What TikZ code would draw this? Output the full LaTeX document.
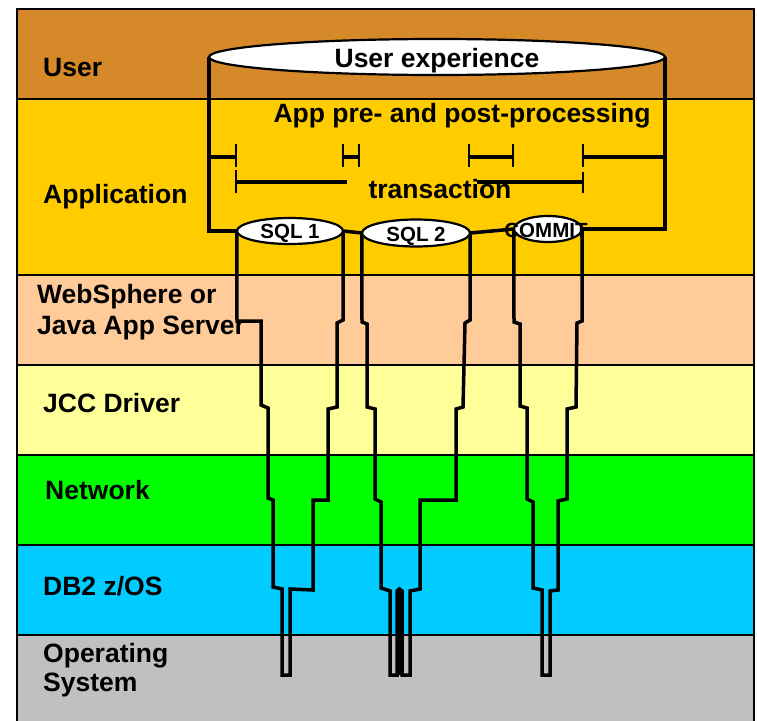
\documentclass[tikz,border=0pt]{standalone}
\usepackage{fontspec}
\setmainfont{Liberation Sans}
\usetikzlibrary{shapes.geometric}
\definecolor{cUser}{RGB}{213,137,40}
\definecolor{cApp}{RGB}{255,204,0}
\definecolor{cWeb}{RGB}{255,204,153}
\definecolor{cJCC}{RGB}{255,255,153}
\definecolor{cNet}{RGB}{0,255,0}
\definecolor{cDB}{RGB}{0,204,255}
\definecolor{cOS}{RGB}{192,192,192}
\tikzset{
  band/.style={draw=black, line width=1.8pt},
  lbl/.style={anchor=base west, inner sep=0pt, font=\fontsize{26.5pt}{31pt}\selectfont\bfseries, align=left},
  big/.style={inner sep=0pt, font=\fontsize{26.5pt}{31pt}\selectfont\bfseries},
  ell/.style={ellipse, draw=black, fill=white, line width=2.2pt, inner sep=0pt},
  sqltxt/.style={inner sep=0pt, anchor=base, font=\fontsize{20.5pt}{24pt}\selectfont\bfseries},
  pipe/.style={draw=black, line width=3.5pt, line join=miter},
  tick/.style={draw=black, line width=2pt},
}
\begin{document}
\begin{tikzpicture}[x=1pt, y=-1pt]
\useasboundingbox (0,0) rectangle (757,720);
% bands
\fill[white] (0,0) rectangle (757,720);
\path[band, fill=cUser] (17,9) rectangle (754,99);
\path[band, fill=cApp] (17,99) rectangle (754,275);
\path[band, fill=cWeb] (17,275) rectangle (754,365);
\path[band, fill=cJCC] (17,365) rectangle (754,455);
\path[band, fill=cNet] (17,455) rectangle (754,545);
\path[band, fill=cDB] (17,545) rectangle (754,635);
\path[band, fill=cOS] (17,635) rectangle (754,730);
% layer labels
\node[lbl] (lUser) at (43,76) {User};
\node[lbl] (lApp) at (43,203) {Application};
\node[lbl] (lWeb1) at (37,303) {WebSphere or};
\node[lbl] (lWeb2) at (37,334) {Java App Server};
\node[lbl] (lJCC) at (43,412) {JCC Driver};
\node[lbl] (lNet) at (45,499) {Network};
\node[lbl] (lDB) at (43,595) {DB2 z/OS};
\node[lbl] (lOS1) at (43,662) {Operating};
\node[lbl] (lOS2) at (43,691) {System};
% ellipse positions (drawn later)
\path (437,57) node[ellipse, minimum width=456pt, minimum height=36pt, inner sep=0pt] (ue) {};
\path (290,231) node[ellipse, minimum width=106pt, minimum height=26pt, inner sep=0pt] (sql1) {};
\path (416,233) node[ellipse, minimum width=108pt, minimum height=27pt, inner sep=0pt] (sql2) {};
\path (548,229) node[ellipse, minimum width=68pt, minimum height=26pt, inner sep=0pt] (commit) {};
% outer outline
\draw[pipe] (ue.west) |- (sql1.west);
\draw[pipe] (ue.east) |- (commit.east);
\draw[pipe] (sql1.east) -- (sql2.west);
\draw[pipe] (sql2.east) -- (commit.west);
% brackets
\draw[pipe] (209,157) -- (236,157);
\draw[tick] (236,144) -- (236,167);
\draw[tick] (343,144) -- (343,167);
\draw[pipe] (343,157) -- (359,157);
\draw[tick] (359,144) -- (359,167);
\draw[tick] (469,144) -- (469,167);
\draw[pipe] (469,157) -- (513,157);
\draw[tick] (513,144) -- (513,167);
\draw[tick] (583,144) -- (583,167);
\draw[pipe] (583,157) -- (665,157);
\draw[tick] (236,170) -- (236,193);
\draw[pipe] (236,182) -- (347,182);
\draw[pipe] (477,182) -- (583,182);
\draw[tick] (583,172) -- (583,193);
% SQL 1 pipe
\draw[pipe] (sql1.west) -- (237,321) -- (261,321) -- (261,405) -- (268,408) -- (268,498) -- (273,500)
  -- (273,587) -- (282,589) -- (282,675) -- (290,675) -- (290,589) -- (313,590) -- (313,500)
  -- (328,500) -- (328,409) -- (337,407) -- (337,323) -- (343,320) -- (sql1.east);
% SQL 2 pipe
\fill[black] (397,591) rectangle (402,675);
\draw[pipe] (sql2.west) -- (362,322) -- (367,324) -- (367,407) -- (375,409) -- (375,499) -- (381,502)
  -- (381,588) -- (390,591) -- (390,675) -- (397,675) -- (397,591) -- (399.5,589) -- (402,591)
  -- (402,675) -- (410,675) -- (410,591) -- (420,589) -- (420,500) -- (456,500)
  -- (456,409) -- (463,407) -- (465,323) -- (470,320) -- (sql2.east);
% COMMIT pipe
\draw[pipe] (commit.west) -- (514,322) -- (520,324) -- (520,406) -- (527,408) -- (527,499) -- (533,502)
  -- (533,588) -- (542,590) -- (542,675) -- (550,675) -- (550,591) -- (558,590) -- (558,501)
  -- (567,499) -- (567,409) -- (576,407) -- (577,323) -- (582,321) -- (commit.east);
% ellipses on top
\node[ell, minimum width=456pt, minimum height=36pt] at (ue.center) {};
\node[ell, minimum width=106pt, minimum height=26pt] at (sql1.center) {};
\node[ell, minimum width=108pt, minimum height=27pt] at (sql2.center) {};
\node[ell, minimum width=68pt, minimum height=26pt] at (commit.center) {};
% texts
\node[big, anchor=base] (tUE) at (437,67) {User experience};
\node[big, anchor=base] (tPre) at (462,122) {App pre- and post-processing};
\node[big, anchor=base] (tTx) at (440,198) {transaction};
\node[sqltxt] (tS1) at (290,238) {SQL 1};
\node[sqltxt] (tS2) at (416,241) {SQL 2};
\node[sqltxt] (tC) at (546,237) {COMMIT};
\end{tikzpicture}
\end{document}
